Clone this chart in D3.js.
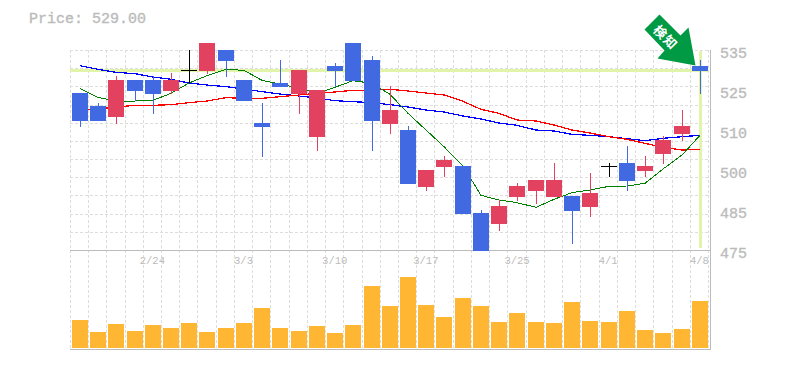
<!DOCTYPE html>
<html>
<head>
<meta charset="utf-8">
<script src="https://d3js.org/d3.v7.min.js"></script>
<style>
  html, body { margin: 0; padding: 0; background: #fff; overflow: hidden; }
  svg { display: block; }
  text { font-family: "Liberation Mono", monospace; fill: #bbb; }
</style>
</head>
<body>
<div id="chart"></div>
<script>
const dates = ['2/18','2/19','2/20','2/21','2/24','2/25','2/26','2/27','2/28','3/3','3/4','3/5','3/6','3/7','3/10','3/11','3/12','3/13','3/14','3/17','3/18','3/19','3/21','3/24','3/25','3/26','3/27','3/28','3/31','4/1','4/2','4/3','4/4','4/7','4/8'];
const opens = [522.1,518.2,514.9,526,526,522.7,529,528.7,535,526,513.1,525.1,521.8,508.9,530.2,537.1,532,512.8,511,493.9,499.9,500.2,486.1,482.8,490.9,492.7,490.9,491.2,487.9,500.2,501.1,498.7,503.8,509.8,530.2];
const highs = [522.1,519.1,527.2,526,527.2,528.1,535,537.1,535,526,519.1,532,529,523,531.1,537.1,533.2,524.2,512.2,498.1,503.2,500.2,487,490,495.1,496,501.1,491.2,498.1,501.1,506.2,503.2,509.2,517,532];
const lows = [511.9,513.7,512.8,519.7,515.8,521.8,525.1,527.8,526.9,519.7,502.9,523.9,515.8,504.7,523.9,525.7,504.7,509.8,494.8,492.7,496.9,485.8,474.7,480.7,489.7,488.8,490.9,476.8,484.9,496.9,492.7,496.9,500.8,507.7,521.8];
const closes = [513.7,513.7,526,522.7,521.8,526,529,537.1,531.7,519.7,511.9,523.9,529,523,528.7,525.7,513.7,517,494.8,499,502,485.8,474.7,488.2,494.2,496,496,486.7,492.1,500.2,495.7,500.2,508,512.2,528.7];
const volumes = [28,16,24,17,23,20,25,16,20,25,40,20,17,22,15,23,62,42,71,43,31,50,42,26,35,26,25,46,27,26,37,18,15,19,47];
const maShort = [523.5,520.8,519.7,519.7,519.9,522,525.1,527.3,529.2,528.9,525.9,524.8,523.5,522,523.8,525.8,525,521.7,516,511,506,500.2,491.4,490,489.2,487.8,490.2,492.2,493,494.1,494.2,495,499.3,503.5,509.4];
const maMid = [517.2,517.3,517.9,518.4,518.4,518.6,519.2,519.7,520.7,520.5,520.5,521,521.5,522,522.4,522.9,522.9,523.2,522.7,522.1,521.5,519.6,517.2,516,514,513.7,512.5,511,510.1,509,508.2,507,505.8,505,505.2];
const maLong = [530.3,529.2,528.3,527.9,526.9,526.2,525.1,524.5,524,523.3,522.5,521.8,521.2,520.6,519.8,519.5,519.2,518.6,517.9,517,516.4,515.2,514.3,513.1,512.4,511,510.7,509.7,509.4,509,508.4,507.8,508.5,509,509.4];
const priceTicks = [535,523,511,499,487,475];
const priceLabels = ['535','525','510','500','485','475'];
const dateTicks = ['2/24','3/3','3/10','3/17','3/25','4/1','4/8'];
const lastPrice = 529;

const width = 785;
const height = 370;
const candleW = 16;

const svg = d3.select('#chart').append('svg')
  .attr('width', width)
  .attr('height', height);

const x = d3.scaleBand().domain(dates).range([70.3, 708.5]);
const y = d3.scaleLinear().domain([475, 535]).range([250, 50]);
const yVol = d3.scaleLinear().domain([0, 98]).range([348, 250]);

const left = (d) => Math.floor(x(d));
const mid = (d) => left(d) + 2 + candleW / 2;

// grid
const grid = svg.append('g')
  .attr('stroke', '#ddd')
  .attr('stroke-dasharray', '3,2')
  .attr('shape-rendering', 'crispEdges');

const hLines = d3.range(0, 11).map((i) => 50 + i * 200 / 11);
grid.selectAll('.h').data(hLines).enter().append('line')
  .attr('x1', 70).attr('x2', 709)
  .attr('y1', (d) => Math.round(d) + 0.5)
  .attr('y2', (d) => Math.round(d) + 0.5);

const vLines = dates.map(left).concat([708]);
grid.selectAll('.v').data(vLines).enter().append('line')
  .attr('x1', (d) => d + 0.5).attr('x2', (d) => d + 0.5)
  .attr('y1', 50).attr('y2', 349);

// volume
svg.append('g').selectAll('rect').data(volumes).enter().append('rect')
  .attr('x', (d, i) => left(dates[i]) + 2)
  .attr('y', (d) => yVol(d))
  .attr('width', candleW)
  .attr('height', (d) => yVol(0) - yVol(d))
  .attr('fill', '#ffb733');

// frame
const frame = svg.append('g').attr('stroke', '#bbb').attr('shape-rendering', 'crispEdges');
frame.append('line').attr('x1', 70).attr('x2', 710).attr('y1', 250.5).attr('y2', 250.5);
frame.append('line').attr('x1', 70).attr('x2', 711).attr('y1', 349.5).attr('y2', 349.5);
frame.append('line').attr('x1', 710.5).attr('x2', 710.5).attr('y1', 50).attr('y2', 350);

// last price cross
const lastX = mid(dates[dates.length - 1]);
svg.append('rect')
  .attr('x', 70).attr('width', 638)
  .attr('y', y(lastPrice) - 1).attr('height', 3)
  .attr('fill', '#e2f4aa');
svg.append('rect')
  .attr('x', lastX - 1).attr('width', 3)
  .attr('y', 51).attr('height', 197)
  .attr('fill', '#e2f4aa');

// moving averages
const line = d3.line().x((d, i) => mid(dates[i])).y((d) => y(d));
[[maLong, '#0000ff', 1.25], [maMid, '#ff0000', 1.25], [maShort, '#008000', 1]].forEach(([ma, color, w]) => {
  svg.append('path')
    .datum(ma)
    .attr('fill', 'none')
    .attr('stroke', color)
    .attr('stroke-width', w)
    .attr('shape-rendering', 'crispEdges')
    .attr('d', line);
});

// candles
const candleColor = (i) => closes[i] > opens[i] ? '#e2425f' : closes[i] < opens[i] ? '#4169e1' : '#000';
const candles = svg.append('g').selectAll('g').data(dates).enter().append('g');
candles.append('line')
  .attr('x1', (d) => mid(d) + 0.5).attr('x2', (d) => mid(d) + 0.5)
  .attr('y1', (d, i) => Math.round(y(highs[i])))
  .attr('y2', (d, i) => Math.round(y(lows[i])))
  .attr('stroke', (d, i) => candleColor(i))
  .attr('shape-rendering', 'crispEdges');
candles.append('rect')
  .attr('x', (d) => left(d) + 2)
  .attr('width', candleW)
  .attr('y', (d, i) => Math.round(y(Math.max(opens[i], closes[i]))))
  .attr('height', (d, i) => Math.max(1, Math.round(y(Math.min(opens[i], closes[i]))) - Math.round(y(Math.max(opens[i], closes[i])))))
  .attr('fill', (d, i) => candleColor(i));

// axes
const yAxis = d3.axisRight(y)
  .tickValues(priceTicks)
  .tickSize(0)
  .tickPadding(0)
  .tickFormat((d, i) => priceLabels[i]);
svg.append('g')
  .attr('transform', 'translate(720,3)')
  .call(yAxis)
  .call((g) => g.select('.domain').remove())
  .call((g) => g.selectAll('text').attr('font-size', 15).style('fill', '#bbb').style('stroke', '#bbb').style('stroke-width', 0.35));

const xAxis = d3.axisBottom(x)
  .tickValues(dateTicks)
  .tickSize(0)
  .tickPadding(0);
svg.append('g')
  .attr('transform', 'translate(0,257)')
  .call(xAxis)
  .call((g) => g.select('.domain').remove())
  .call((g) => g.selectAll('text').attr('font-size', 10.5).style('fill', '#bbb'));

svg.append('text')
  .attr('x', 29).attr('y', 23)
  .attr('font-size', 15)
  .style('stroke', '#bbb')
  .style('stroke-width', 0.35)
  .text('Price: ' + lastPrice.toFixed(2));

// arrow marker
const tipX = lastX - 4.5;
const tipY = y(lastPrice) - 4.5;
const arrow = svg.append('g').attr('transform', `translate(${tipX},${tipY})`);
const arrowShape = [[-36,-51],[-15,-30],[-7,-38],[0,0],[-38,-7],[-31,-15],[-51,-36]];
arrow.append('polygon')
  .attr('points', arrowShape.map((p) => p.join(',')).join(' '))
  .attr('fill', '#009944');
arrow.append('text')
  .attr('transform', 'translate(-30,-28) rotate(45)')
  .attr('text-anchor', 'middle')
  .attr('dy', '0.35em')
  .style('font-family', '"Noto Sans CJK JP"')
  .style('font-weight', 'bold')
  .style('font-size', '13px')
  .style('letter-spacing', '1px')
  .style('fill', '#fff')
  .text('検知');
</script>
</body>
</html>
